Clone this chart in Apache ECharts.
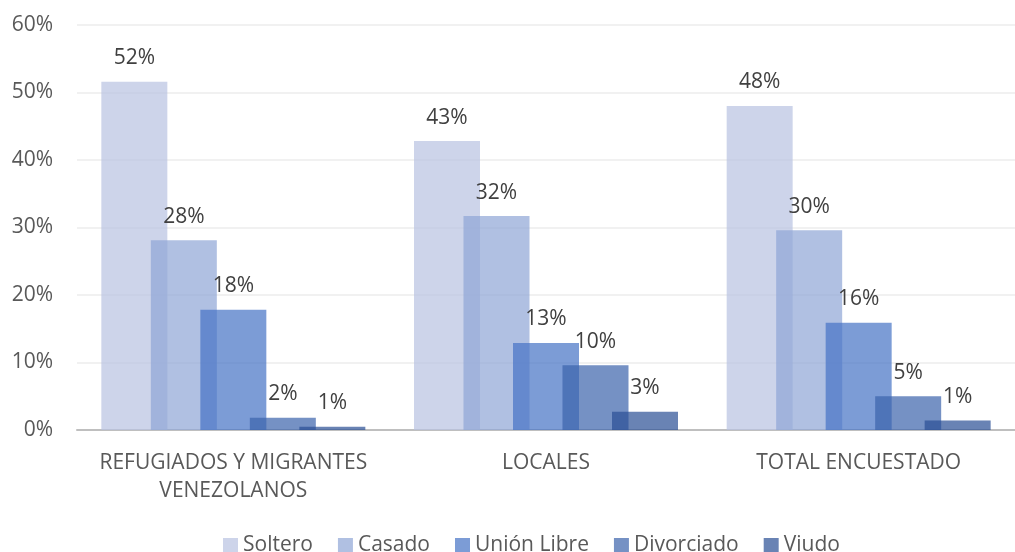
<!DOCTYPE html>
<html>
<head>
<meta charset="utf-8">
<script src="https://cdn.jsdelivr.net/npm/echarts@6/dist/echarts.min.js"></script>
<style>
    html,body{margin:0;padding:0;background:#fff;}
    #myChart{width:1015px;height:552px;}
</style>
</head>
<body>
<div id="myChart"></div>
<script>
    // categorias y valores (%)
    var categories = ['REFUGIADOS Y MIGRANTES\nVENEZOLANOS', 'LOCALES', 'TOTAL ENCUESTADO'];
    var seriesNames = ['Soltero', 'Casado', 'Unión Libre', 'Divorciado', 'Viudo'];
    var soltero = [51.6, 42.8, 48.0];
    var casado = [28.1, 31.7, 29.6];
    var unionLibre = [17.8, 12.9, 15.9];
    var divorciado = [1.8, 9.6, 5.0];
    var viudo = [0.5, 2.7, 1.4];
    var yTicks = [0, 10, 20, 30, 40, 50, 60];

    var colors = [
        'rgba(184,194,225,0.7)',
        'rgba(142,165,214,0.7)',
        'rgba(68,114,196,0.7)',
        'rgba(58,99,171,0.7)',
        'rgba(42,79,148,0.7)'
    ];
    var values = [soltero, casado, unionLibre, divorciado, viudo];
    var font = '"Open Sans", sans-serif';

    var series = seriesNames.map(function (name, i) {
        return {
            type: 'bar',
            name: name,
            data: values[i],
            barWidth: 66,
            barGap: '-25%',
            itemStyle: {color: colors[i]},
            label: {
                show: true,
                position: 'top',
                distance: 13,
                color: '#404040',
                fontSize: 21,
                fontFamily: font,
                formatter: function (p) { return Math.round(p.value) + '%'; }
            }
        };
    });

    var myChart = echarts.init(document.getElementById('myChart'));
    myChart.setOption({
        animation: false,
        textStyle: {fontFamily: font},
        legend: {
            data: seriesNames,
            top: 530,
            left: 218,
            icon: 'rect',
            itemWidth: 15,
            itemHeight: 15,
            itemGap: 25,
            textStyle: {color: '#595959', fontSize: 21, fontFamily: font}
        },
        grid: {left: 77, right: 0, top: 25, bottom: 122, containLabel: false},
        xAxis: {
            type: 'category',
            data: categories,
            axisTick: {show: false},
            axisLine: {lineStyle: {color: '#bfbfbf', width: 2}},
            axisLabel: {interval: 0, color: '#595959', fontSize: 21, lineHeight: 28, margin: 19, fontFamily: font}
        },
        yAxis: {
            type: 'value',
            min: yTicks[0],
            max: yTicks[yTicks.length - 1],
            interval: 10,
            axisLine: {show: false},
            axisTick: {show: false},
            axisLabel: {color: '#595959', fontSize: 21, margin: 24, fontFamily: font, formatter: '{value}%'},
            splitLine: {lineStyle: {color: '#ececec', width: 1.5}}
        },
        series: series
    });
</script>
</body>
</html>
